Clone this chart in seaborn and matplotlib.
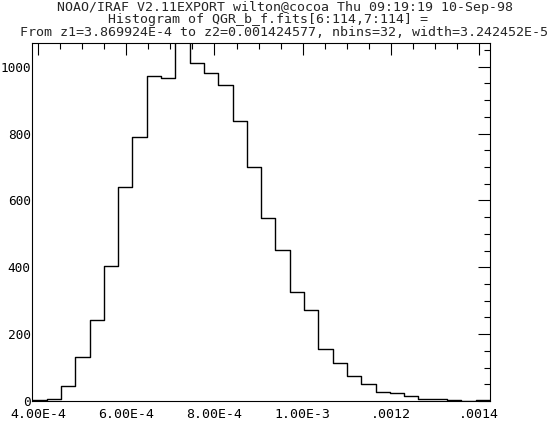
import numpy as np
import matplotlib
matplotlib.use('Agg')
import matplotlib.pyplot as plt
import seaborn as sns
from matplotlib.ticker import MultipleLocator, FixedLocator, FixedFormatter

# histogram parameters (from the IRAF title)
z1 = 3.869924e-4
z2 = 0.001424577
nbins = 32
width = 3.242452e-5

# counts per bin (peak bin is clipped at the top)
counts = [3, 5, 45, 131, 242, 404, 640, 789, 971, 965, 1120, 1010,
          980, 944, 837, 699, 546, 452, 326, 271, 156, 113, 75, 50,
          27, 25, 16, 6, 6, 2, 0, 2]

x_ticks = [4.0e-4, 6.0e-4, 8.0e-4, 1.0e-3, 1.2e-3, 1.4e-3]
x_labels = ['4.00E-4', '6.00E-4', '8.00E-4', '1.00E-3', '.0012', '.0014']
y_ticks = [0, 200, 400, 600, 800, 1000]
y_labels = ['0', '200', '400', '600', '800', '1000']

titles = [
    'NOAO/IRAF V2.11EXPORT wilton@cocoa Thu 09:19:19 10-Sep-98',
    'Histogram of QGR_b_f.fits[6:114,7:114] =',
    'From z1=3.869924E-4 to z2=0.001424577, nbins=32, width=3.242452E-5',
]

sns.set_style('white')
plt.rcParams['font.family'] = ['DejaVu Sans Mono', 'DejaVu Sans']

fig = plt.figure(figsize=(5.51, 4.22), dpi=100)
ax = fig.add_axes([32.3 / 551, 21 / 422, (490 - 32.3) / 551, (401 - 43.3) / 422])

# one value per bin, weighted by its count
centers = z1 + width * (np.arange(nbins) + 0.5)
sns.histplot(x=centers, weights=counts, bins=nbins, binrange=(z1, z2),
             element='step', fill=False, color='black', linewidth=1.0, ax=ax)

ax.set_xlim(z1, z2)
ax.set_ylim(0, 1070)
ax.set_xlabel('')
ax.set_ylabel('')

ax.xaxis.set_major_locator(FixedLocator(x_ticks))
ax.xaxis.set_major_formatter(FixedFormatter(x_labels))
ax.xaxis.set_minor_locator(MultipleLocator(5e-5))
ax.yaxis.set_major_locator(FixedLocator(y_ticks))
ax.yaxis.set_major_formatter(FixedFormatter(y_labels))
ax.yaxis.set_minor_locator(MultipleLocator(50))

ax.tick_params(which='both', direction='in', top=True, right=True,
               color='black', width=0.8, labelsize=9.5, labelcolor='black')
ax.tick_params(which='major', length=8.5)
ax.tick_params(which='minor', length=4.3)
ax.tick_params(axis='x', pad=5)
ax.tick_params(axis='y', pad=1.2, labelsize=9.2)

for s in ax.spines.values():
    s.set_color('black')
    s.set_linewidth(0.8)

fig.text(57 / 551, 1 - 7 / 422, titles[0], ha='left', va='center', fontsize=9.5)
fig.text(108 / 551, 1 - 20 / 422, titles[1], ha='left', va='center', fontsize=9.5)
fig.text(20 / 551, 1 - 32.5 / 422, titles[2], ha='left', va='center', fontsize=9.6)

fig.savefig('out.png', dpi=100, facecolor='white')
